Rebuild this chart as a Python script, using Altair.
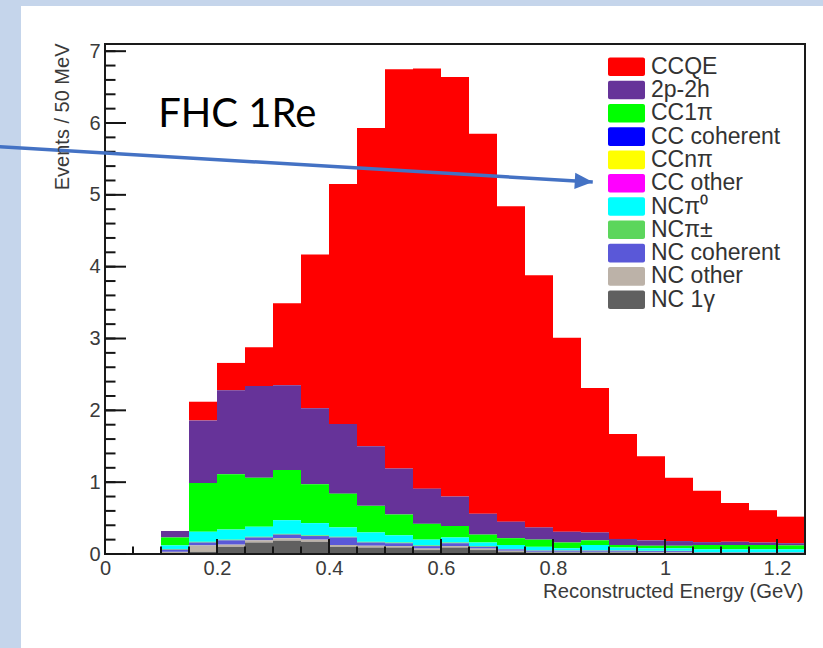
import altair as alt
import pandas as pd

# 50 MeV bins of reconstructed energy (GeV), lower edges
bin_lo = [0.10, 0.15, 0.20, 0.25, 0.30, 0.35, 0.40, 0.45, 0.50, 0.55, 0.60, 0.65,
          0.70, 0.75, 0.80, 0.85, 0.90, 0.95, 1.00, 1.05, 1.10, 1.15, 1.20]
BIN_W = 0.05

# Events per bin for each interaction mode
ccqe = [0.00, 0.26, 0.38, 0.54, 1.14, 2.14, 3.34, 4.43, 5.56, 5.85, 5.84, 5.29,
        4.39, 3.51, 2.70, 2.01, 1.46, 1.17, 0.88, 0.715, 0.54, 0.45, 0.37]
two_p_two_h = [0.09, 0.87, 1.17, 1.28, 1.18, 1.06, 0.97, 0.83, 0.64, 0.49, 0.41, 0.29,
               0.23, 0.17, 0.15, 0.11, 0.085, 0.075, 0.065, 0.04, 0.045, 0.035, 0.03]
cc1pi = [0.11, 0.68, 0.77, 0.68, 0.70, 0.54, 0.47, 0.37, 0.29, 0.22, 0.16, 0.11,
         0.095, 0.10, 0.08, 0.065, 0.035, 0.035, 0.035, 0.06, 0.06, 0.06, 0.055]
cc_coherent = [0.0] * 23
cc_npi = [0.0] * 23
cc_other = [0.0] * 23
nc_pi0 = [0.05, 0.14, 0.14, 0.14, 0.19, 0.17, 0.13, 0.13, 0.10, 0.08, 0.07, 0.05,
          0.055, 0.049, 0.029, 0.074, 0.04, 0.035, 0.035, 0.04, 0.04, 0.04, 0.04]
nc_pipm = [0.01, 0.01, 0.01, 0.01, 0.01, 0.01, 0.01, 0.01, 0.01, 0.01, 0.01, 0.01,
           0.005, 0.005, 0.005, 0.005, 0.005, 0.005, 0.005, 0.005, 0.005, 0.005, 0.005]
nc_coherent = [0.03, 0.04, 0.06, 0.04, 0.05, 0.05, 0.105, 0.045, 0.04, 0.035, 0.04, 0.025,
               0.02, 0.016, 0.016, 0.016, 0.015, 0.015, 0.015, 0.005, 0.005, 0.005, 0.005]
nc_other = [0.02, 0.09, 0.03, 0.03, 0.035, 0.03, 0.025, 0.025, 0.02, 0.02, 0.02, 0.02,
            0.015, 0.01, 0.01, 0.01, 0.01, 0.01, 0.01, 0.005, 0.005, 0.005, 0.005]
nc_1gamma = [0.01, 0.03, 0.10, 0.16, 0.185, 0.17, 0.10, 0.09, 0.09, 0.055, 0.09, 0.055,
             0.03, 0.02, 0.02, 0.02, 0.02, 0.015, 0.015, 0.01, 0.01, 0.01, 0.01]

# Legend order (top of stack first)
modes = ["CCQE", "2p-2h", "CC1π", "CC coherent", "CCnπ", "CC other",
         "NCπ⁰", "NCπ±", "NC coherent", "NC other", "NC 1γ"]
series = [ccqe, two_p_two_h, cc1pi, cc_coherent, cc_npi, cc_other,
          nc_pi0, nc_pipm, nc_coherent, nc_other, nc_1gamma]
mode_colors = ["#ff0000", "#663399", "#00ff00", "#0000ff", "#ffff00", "#ff00ff",
               "#00ffff", "#5cd65c", "#5a58d8", "#bcb2a8", "#606060"]

# Axis ticks
x_labels = [0, 0.2, 0.4, 0.6, 0.8, 1.0, 1.2]
x_minor = [round(i * 0.05, 2) for i in range(26)]
y_labels = [0, 1, 2, 3, 4, 5, 6, 7]
y_minor = [round(i * 0.2, 1) for i in range(36)]

# Annotation: sample label and pointer arrow (data units)
sample_label = "FHC 1Re"
label_pos = (0.095, 5.95)
arrow = {"x": -0.19, "y": 5.67, "x2": 0.871, "y2": 5.18}

rows = []
for k, (mode, vals) in enumerate(zip(modes, series)):
    for lo, v in zip(bin_lo, vals):
        rows.append({"mode": mode, "lo": lo, "hi": round(lo + BIN_W, 2),
                     "value": v, "order": len(modes) - 1 - k})
hist = pd.DataFrame(rows)

W, H = 700, 510
FONT = "Liberation Sans"
TXT = "#3a3a3a"
xs = alt.Scale(domain=[0, 1.25], nice=False, zero=False)
ys = alt.Scale(domain=[0, 7.1], nice=False, zero=False)
color = alt.Color("mode:N", scale=alt.Scale(domain=modes, range=mode_colors), legend=None)
one = pd.DataFrame({"a": [0]})

x_axis = alt.Axis(
    values=x_labels, format="~g", title="Reconstructed Energy (GeV)",
    ticks=False, domain=False, grid=False, labelFlush=False, labelOverlap=False,
    labelFont=FONT, labelFontSize=20, labelColor=TXT, labelPadding=4,
    titleFont=FONT, titleFontSize=20.3, titleFontWeight="normal", titleColor=TXT,
    titleAlign="right", titleBaseline="middle", titleX=W - 2, titleY=37, zindex=1,
)
y_axis = alt.Axis(
    values=y_labels, title="Events / 50 MeV",
    ticks=False, domain=False, grid=False, labelOverlap=False,
    labelFont=FONT, labelFontSize=20, labelColor=TXT, labelPadding=5,
    titleFont=FONT, titleFontSize=20, titleFontWeight="normal", titleColor=TXT,
    titleAlign="right", titleBaseline="middle", titleAngle=-90,
    titleX=-43, titleY=-1, zindex=1,
)

def X(field):
    return alt.X(field, scale=xs, axis=x_axis)

def Y(field):
    return alt.Y(field, scale=ys, axis=y_axis)

# white slide panel behind the plot
panel = alt.Chart(one).mark_rect(color="white").encode(
    x=alt.value(-84), x2=alt.value(W + 18), y=alt.value(-38), y2=alt.value(H + 94)
)

bars = alt.Chart(hist).transform_stack(
    stack="value", as_=["y0", "y1"], groupby=["lo"],
    sort=[alt.SortField("order", order="ascending")],
).mark_rect().encode(x=X("lo:Q"), x2="hi:Q", y=Y("y1:Q"), y2="y0:Q", color=color)

# plot frame
frame = alt.Chart(one).mark_rect(filled=False, stroke="#1a1a1a", strokeWidth=2).encode(
    x=alt.value(0), x2=alt.value(W), y=alt.value(0), y2=alt.value(H)
)

def xticks(vals, length):
    return alt.Chart(pd.DataFrame({"t": vals})).mark_rule(
        color="#151515", strokeWidth=2).encode(
        x=X("t:Q"), y=alt.value(H), y2=alt.value(H - length))

def yticks(vals, length):
    return alt.Chart(pd.DataFrame({"t": vals})).mark_rule(
        color="#151515", strokeWidth=2).encode(
        y=Y("t:Q"), x=alt.value(0), x2=alt.value(length))

label = alt.Chart(pd.DataFrame({"x": [label_pos[0]], "y": [label_pos[1]],
                                "t": [sample_label]})).mark_text(
    align="left", baseline="alphabetic", font="Lato", fontSize=40, color="black"
).encode(x=X("x:Q"), y=Y("y:Q"), text="t:N")

arrow_df = pd.DataFrame([arrow])
arrow_line = alt.Chart(arrow_df).mark_rule(color="#4472c4", strokeWidth=3.5).encode(
    x=X("x:Q"), y=Y("y:Q"), x2="x2:Q", y2="y2:Q")
arrow_head = alt.Chart(arrow_df).mark_point(
    shape="M-2,-0.9L0,0L-2,0.9Z", size=324, angle=3.4, filled=True,
    color="#4472c4", opacity=1, strokeWidth=0
).encode(x=X("x2:Q"), y=Y("y2:Q"))

main = alt.layer(
    panel, bars, frame,
    xticks(x_minor, 7.5), xticks(x_labels, 15),
    yticks(y_minor, 10.5), yticks(y_labels, 21),
    label, arrow_line, arrow_head,
)

# legend box: one row per mode, in its own row scale
leg = pd.DataFrame({"mode": modes, "row": list(range(len(modes)))})
row_scale = alt.Scale(domain=[0, len(modes) - 1], range=[22.7, 22.7 + 23.3 * 10])
leg_x = alt.Scale(domain=[0, 1], range=[503, 540])
leg_base = alt.Chart(leg).transform_calculate(top="datum.row - 0.4", bot="datum.row + 0.4")
swatches = leg_base.mark_rect(cornerRadius=2).encode(
    x=alt.X("a0:Q", scale=leg_x, axis=None), x2="a1:Q",
    y=alt.Y("top:Q", scale=row_scale, axis=None), y2="bot:Q", color=color,
).transform_calculate(a0="0", a1="1")
names = leg_base.mark_text(
    align="left", baseline="middle", font=FONT, fontSize=23, color="#333", dx=6
).encode(
    x=alt.X("a1:Q", scale=leg_x, axis=None),
    y=alt.Y("row:Q", scale=row_scale, axis=None), text="mode:N",
).transform_calculate(a1="1")
legend = alt.layer(swatches, names)

chart = alt.layer(main, legend).resolve_scale(
    x="independent", y="independent"
).properties(
    width=W, height=H, autosize="none",
    padding={"left": 105, "top": 44, "right": 18, "bottom": 94},
    background="#c5d5eb",
).configure_view(stroke=None)

chart.save("out.html", embed_options={"renderer": "svg", "actions": False})
